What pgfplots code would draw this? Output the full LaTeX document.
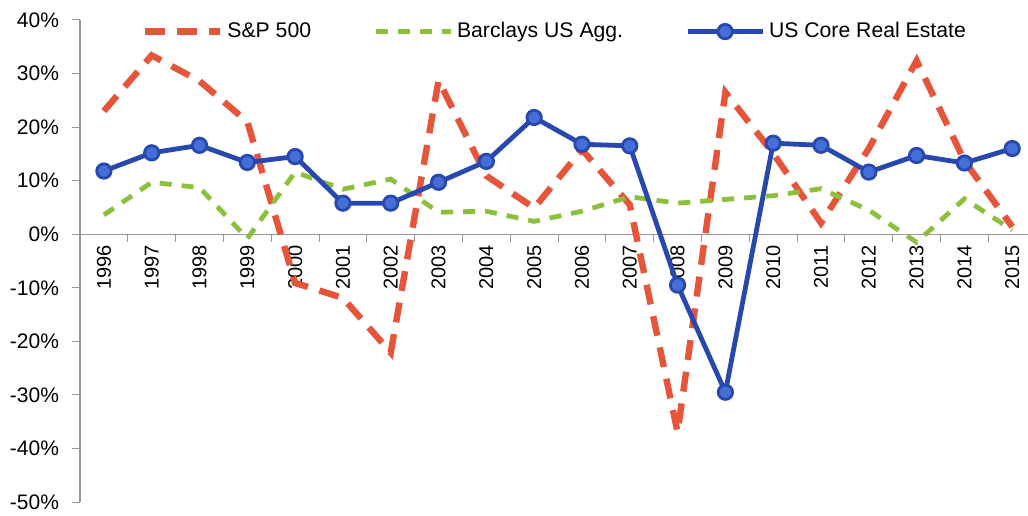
\documentclass[border=0pt]{standalone}
\usepackage{pgfplots}
\pgfplotsset{compat=1.18}
\usepackage{fontspec}
\setmainfont{Liberation Sans}
\definecolor{spred}{RGB}{230,84,58}
\definecolor{aggreen}{RGB}{140,192,60}
\definecolor{reblue}{RGB}{38,72,175}
\definecolor{reblueL}{RGB}{70,110,215}
\definecolor{axgray}{RGB}{150,150,160}
\begin{document}
\begin{tikzpicture}
\begin{axis}[
  scale only axis,
  width=474pt, height=241pt,
  xmin=-0.5, xmax=19.33,
  ymin=-50, ymax=40,
  axis y line*=left,
  axis x line*=middle,
  axis line style={axgray, line width=0.6pt, -},
  xtick={0,...,19},
  xticklabels={1996,1997,1998,1999,2000,2001,2002,2003,2004,2005,2006,2007,2008,2009,2010,2011,2012,2013,2014,2015},
  major x tick style={draw=none},
  minor xtick={-0.5,0.5,...,19.5},
  minor x tick style={axgray, line width=0.5pt},
  minor tick length=4pt,
  xticklabel style={rotate=90, anchor=east, font=\fontsize{10}{12}\selectfont, xshift=2pt},
  ytick={-50,-40,...,40},
  yticklabels={-50\%,-40\%,-30\%,-20\%,-10\%,0\%,10\%,20\%,30\%,40\%},
  yticklabel style={font=\fontsize{10.5}{12}\selectfont, xshift=-3pt},
  y tick style={axgray, line width=0.5pt},
  major tick length=4pt,
  tick align=outside,
  clip=false,
  legend columns=3,
  legend style={at={(0.502,1.0)}, anchor=north, draw=none, fill=none,
    font=\fontsize{10.6}{13}\selectfont, yshift=3pt,
    /tikz/every even column/.append style={column sep=29pt}},
  legend cell align=left,
  legend image code/.code={\draw[mark repeat=2,mark phase=2,#1] plot coordinates {(0cm,0cm) (0.66cm,0cm) (1.32cm,0cm)};},
]
\addplot[spred, line width=3.2pt, dash pattern=on 10pt off 6pt] coordinates {
(0,23.0) (1,33.4) (2,28.6) (3,21.0) (4,-9.1) (5,-11.9) (6,-22.1) (7,28.7) (8,10.9) (9,4.9)
(10,15.8) (11,5.5) (12,-37.0) (13,26.5) (14,15.1) (15,2.1) (16,16.0) (17,32.4) (18,13.7) (19,1.4)};
\addlegendentry{S\&P 500}
\addplot[aggreen, line width=2.4pt, dash pattern=on 6pt off 5pt] coordinates {
(0,3.6) (1,9.7) (2,8.7) (3,-0.8) (4,11.6) (5,8.4) (6,10.3) (7,4.1) (8,4.3) (9,2.4)
(10,4.3) (11,7.0) (12,5.8) (13,6.5) (14,7.2) (15,8.5) (16,4.5) (17,-1.5) (18,6.6) (19,0.8)};
\addlegendentry{Barclays US Agg.}
\addplot[reblue, line width=2.4pt, mark=*, mark size=3.6pt,
  mark options={fill=reblueL, draw=reblue, line width=1.4pt, solid}] coordinates {
(0,11.8) (1,15.2) (2,16.6) (3,13.4) (4,14.5) (5,5.8) (6,5.8) (7,9.7) (8,13.6) (9,21.8)
(10,16.8) (11,16.5) (12,-9.5) (13,-29.5) (14,17.0) (15,16.6) (16,11.6) (17,14.7) (18,13.3) (19,16.0)};
\addlegendentry{US Core Real Estate}
\coordinate (BL) at (rel axis cs:0,0);
\coordinate (TR) at (rel axis cs:1,1);
\end{axis}
\pgfresetboundingbox
\path ([xshift=-40pt,yshift=-6.5pt]BL) rectangle ([yshift=10pt]TR);
\end{tikzpicture}
\end{document}
